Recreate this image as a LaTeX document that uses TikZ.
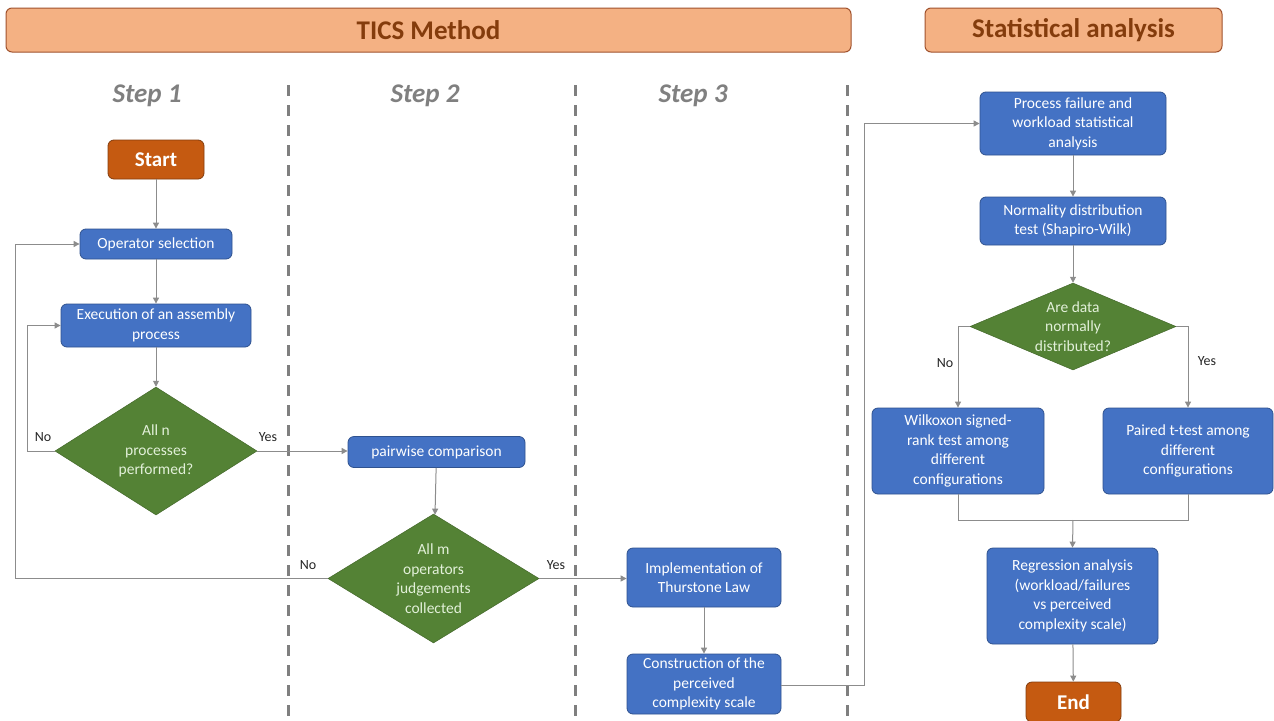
\documentclass[tikz,border=0pt]{standalone}
\usepackage{fontspec}
\setmainfont{Carlito}
\usetikzlibrary{shapes.geometric,arrows.meta}
\definecolor{hdrfill}{HTML}{F4B183}
\definecolor{hdrdraw}{HTML}{A0522D}
\definecolor{hdrtext}{HTML}{843C0C}
\definecolor{boxblue}{HTML}{4472C4}
\definecolor{boxedge}{HTML}{2F528F}
\definecolor{dgreen}{HTML}{548235}
\definecolor{dgtext}{HTML}{E2F0D9}
\definecolor{termfill}{HTML}{C55A11}
\definecolor{termedge}{HTML}{843C0C}
\definecolor{linegray}{HTML}{8C8C8C}
\definecolor{dashgray}{HTML}{7F7F7F}
\definecolor{steptext}{HTML}{808080}
\tikzset{
  hdr/.style={draw=hdrdraw, line width=1pt, fill=hdrfill, rounded corners=6pt, text=hdrtext,
    font=\fontsize{27}{30}\selectfont\bfseries, inner sep=0pt},
  proc/.style={draw=boxedge, line width=0.8pt, fill=boxblue, rounded corners=6pt, text=white,
    font=\fontsize{15.5}{19.5}\selectfont, align=center, inner sep=0pt},
  term/.style={draw=termedge, line width=0.8pt, fill=termfill, rounded corners=6pt, text=white,
    font=\fontsize{21}{24}\selectfont\bfseries, inner sep=0pt},
  dec/.style={diamond, fill=dgreen, draw=dgreen!80!black, line width=0.5pt, inner sep=0pt},
  dectext/.style={text=dgtext, font=\fontsize{15.5}{19.5}\selectfont, align=center, inner sep=0pt},
  steplbl/.style={text=steptext, font=\fontsize{27}{30}\selectfont\bfseries\itshape},
  lbl/.style={font=\fontsize{14}{16}\selectfont, text=black!85},
  arr/.style={draw=linegray, line width=1pt, -{Triangle[length=6pt,width=6pt]}},
  ln/.style={draw=linegray, line width=1pt},
  sep/.style={draw=dashgray, line width=3pt, dash pattern=on 11pt off 9pt},
}
\begin{document}
\begin{tikzpicture}[x=1pt,y=-1pt]
\useasboundingbox (0,0) rectangle (1274,720);
\fill[white] (0,0) rectangle (1274,720);
% headers
\node[hdr, minimum width=845pt, minimum height=44pt] (h1) at (428.5,30) {TICS Method};
\node[hdr, minimum width=297pt, minimum height=44pt] (h2) at (1073.5,30) {Statistical analysis};
% step labels
\node[steplbl] (s1) at (147,96) {Step 1};
\node[steplbl] (s2) at (425,96) {Step 2};
\node[steplbl] (s3) at (693,96) {Step 3};
% separators
\coordinate (sepA1) at (288,85); \coordinate (sepA2) at (288,720);
\coordinate (sepB1) at (575,85); \coordinate (sepB2) at (575,720);
\coordinate (sepC1) at (847,85); \coordinate (sepC2) at (847,720);
\draw[sep] (sepA1) -- (sepA2);
\draw[sep] (sepB1) -- (sepB2);
\draw[sep] (sepC1) -- (sepC2);
% step 1
\node[term, minimum width=96pt, minimum height=39pt] (start) at (156,159.5) {Start};
\node[proc, minimum width=152pt, minimum height=30pt] (opsel) at (156,244) {Operator selection};
\node[proc, minimum width=190pt, minimum height=43pt] (exec) at (156,325.5) {Execution of an assembly\\process};
\node[dec, minimum width=202pt, minimum height=128pt,
  label={[dectext]center:All n\\processes\\performed?}] (d1) at (156,451) {};
% step 2
\node[proc, minimum width=177pt, minimum height=31pt] (pair) at (436.5,452) {pairwise comparison};
\node[dec, minimum width=211pt, minimum height=129pt,
  label={[dectext]center:All m\\operators\\judgements\\collected}] (d2) at (433.5,578.5) {};
% step 3
\node[proc, minimum width=154pt, minimum height=59pt] (impl) at (704,577.5) {Implementation of\\Thurstone Law};
\node[proc, minimum width=154pt, minimum height=60pt] (cons) at (704,684) {Construction of the\\perceived\\complexity scale};
% statistical analysis
\node[proc, minimum width=186pt, minimum height=63pt] (pf) at (1073,123.5) {Process failure and\\workload statistical\\analysis};
\node[proc, minimum width=186pt, minimum height=48pt] (norm) at (1073,221) {Normality distribution\\test (Shapiro-Wilk)};
\node[dec, minimum width=206pt, minimum height=87pt,
  label={[dectext]center:Are data\\normally\\distributed?}] (d3) at (1073,326.5) {};
\node[proc, minimum width=172pt, minimum height=86pt] (wil) at (958,451) {Wilkoxon signed-\\rank test among\\different\\configurations};
\node[proc, minimum width=170pt, minimum height=86pt] (pt) at (1188,451) {Paired t-test among\\different\\configurations};
\node[proc, minimum width=171pt, minimum height=96pt] (reg) at (1072.5,596) {Regression analysis\\(workload/failures\\vs perceived\\complexity scale)};
\node[term, minimum width=95pt, minimum height=40pt] (end) at (1073.5,702) {End};
% connectors step 1
\draw[arr] (start) -- (opsel);
\draw[arr] (opsel) -- (exec);
\draw[arr] (exec) -- (d1);
\coordinate (l1) at (27,451);
\draw[arr] (d1.west) -- (l1) |- (exec.west);
\node[lbl] (no1) at (43,437) {No};
\node[lbl] (yes1) at (268,437) {Yes};
\draw[arr] (d1.east) -- (d1.east -| pair.west);
% step 2
\draw[arr] (pair) -- (d2);
\coordinate (l2) at (15,578.5);
\draw[arr] (d2.west) -- (l2) |- (opsel.west);
\node[lbl] (no2) at (308,565) {No};
\node[lbl] (yes2) at (556,565) {Yes};
\draw[arr] (d2.east) -- (d2.east -| impl.west);
% step 3
\draw[arr] (impl) -- (cons);
\coordinate (l3) at (864,685);
\draw[arr] (cons.east |- l3) -- (l3) |- (pf.west);
% stats
\draw[arr] (pf) -- (norm);
\draw[arr] (norm) -- (d3);
\draw[arr] (d3.west) -| (wil.north);
\draw[arr] (d3.east) -| (pt.north);
\node[lbl] (no3) at (945,363) {No};
\node[lbl] (yes3) at (1207,361) {Yes};
\coordinate (m1) at (1073,520);
\draw[ln] (wil.south) |- (m1);
\draw[ln] (pt.south) |- (m1);
\draw[arr] (m1) -- (reg.north);
\draw[arr] (reg) -- (end);
\end{tikzpicture}
\end{document}
